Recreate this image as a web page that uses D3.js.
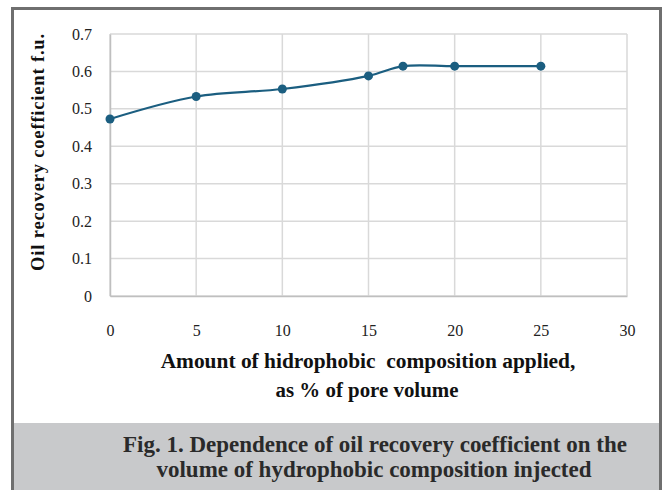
<!DOCTYPE html>
<html>
<head>
<meta charset="utf-8">
<script src="https://cdn.jsdelivr.net/npm/d3@7"></script>
<style>
  body { margin: 0; background: #fff; }
  svg { display: block; }
</style>
</head>
<body>
<svg id="chart"></svg>
<script>
// values
const injected = [0, 5, 10, 15, 17, 20, 25];
const recovery = [0.473, 0.533, 0.553, 0.588, 0.614, 0.614, 0.614];
const xTicks = [0, 5, 10, 15, 20, 25, 30];
const yTicks = [0, 0.1, 0.2, 0.3, 0.4, 0.5, 0.6, 0.7];

const width = 667, height = 490;
const margins = { top: 34, bottom: 194, left: 110, right: 40 };
const serif = 'Liberation Serif, Times New Roman, serif';

const svg = d3.select('#chart')
    .attr('width', width)
    .attr('height', height);

const x = d3.scaleLinear()
    .domain([0, 30])
    .range([margins.left, width - margins.right]);
const y = d3.scaleLinear()
    .domain([0, 0.7])
    .range([height - margins.bottom, margins.top]);

// shrink/grow font so a text fills the width seen in the figure
function fit(sel, target) {
    const fs = +sel.attr('font-size');
    const w = sel.node().getComputedTextLength();
    sel.attr('font-size', (fs * target / w).toFixed(2));
}

// caption box
svg.append('rect')
    .attr('x', 12).attr('y', 423)
    .attr('width', 649).attr('height', 80)
    .attr('fill', '#c8c9cb');

// outer frame
svg.append('rect')
    .attr('x', 12.5).attr('y', 8.5)
    .attr('width', 648).attr('height', 500)
    .attr('fill', 'none')
    .attr('stroke', '#6f6f6f')
    .attr('stroke-width', 3);

// grid
svg.append('g')
    .selectAll('line')
    .data(xTicks)
    .join('line')
    .attr('x1', d => x(d)).attr('x2', d => x(d))
    .attr('y1', y(0)).attr('y2', y(0.7))
    .attr('stroke', '#d9d9d9')
    .attr('stroke-width', 1.5);

svg.append('g')
    .selectAll('line')
    .data(yTicks)
    .join('line')
    .attr('x1', x(0)).attr('x2', x(30))
    .attr('y1', d => y(d)).attr('y2', d => y(d))
    .attr('stroke', '#d9d9d9')
    .attr('stroke-width', 1.5);

// axes (Excel style, only labels)
const xAxis = d3.axisBottom(x).tickValues(xTicks).tickSize(0).tickPadding(29);
const yAxis = d3.axisLeft(y).tickValues(yTicks).tickSize(0).tickPadding(18)
    .tickFormat(d => d === 0 ? '0' : d3.format('.1f')(d));

svg.append('g')
    .attr('transform', `translate(0,${y(0)})`)
    .call(xAxis)
    .attr('font-family', serif)
    .attr('font-size', 16)
    .call(g => g.select('.domain').attr('stroke', '#bfbfbf').attr('stroke-width', 1.5))
    .selectAll('text')
    .attr('fill', '#222');

svg.append('g')
    .attr('transform', `translate(${x(0)},0)`)
    .call(yAxis)
    .attr('font-family', serif)
    .attr('font-size', 16)
    .call(g => g.select('.domain').attr('stroke', '#bfbfbf').attr('stroke-width', 1.5))
    .selectAll('text')
    .attr('fill', '#222');

// line
const pts = injected.map((d, i) => ({ x: d, y: recovery[i] }));
const line = d3.line()
    .curve(d3.curveCatmullRom.alpha(0.5))
    .x(d => x(d.x))
    .y(d => y(d.y));

svg.append('path')
    .datum(pts)
    .attr('fill', 'none')
    .attr('stroke', '#1b5e80')
    .attr('stroke-width', 2.2)
    .attr('d', line);

svg.append('g')
    .selectAll('circle')
    .data(pts)
    .join('circle')
    .attr('cx', d => x(d.x))
    .attr('cy', d => y(d.y))
    .attr('r', 4.5)
    .attr('fill', '#1b5e80');

// axis titles
const yTitle = svg.append('text')
    .attr('transform', `translate(44,152) rotate(-90)`)
    .attr('text-anchor', 'middle')
    .attr('font-family', serif)
    .attr('font-weight', 'bold')
    .attr('font-size', 17)
    .attr('letter-spacing', 0.8)
    .attr('fill', '#111')
    .text('Oil recovery coefficient f.u.');
fit(yTitle, 240);

const t1 = svg.append('text')
    .attr('x', 368).attr('y', 368)
    .attr('text-anchor', 'middle')
    .attr('font-family', serif)
    .attr('font-weight', 'bold')
    .attr('font-size', 18)
    .attr('fill', '#111')
    .attr('xml:space', 'preserve')
    .text('Amount of hidrophobic  composition applied,');
fit(t1, 415);

const t2 = svg.append('text')
    .attr('x', 367).attr('y', 397)
    .attr('text-anchor', 'middle')
    .attr('font-family', serif)
    .attr('font-weight', 'bold')
    .attr('font-size', 18)
    .attr('fill', '#111')
    .text('as % of pore volume');
fit(t2, 183);

// caption
const c1 = svg.append('text')
    .attr('x', 375).attr('y', 452)
    .attr('text-anchor', 'middle')
    .attr('font-family', serif)
    .attr('font-weight', 'bold')
    .attr('font-size', 20)
    .attr('fill', '#2a2a2a')
    .text('Fig. 1. Dependence of oil recovery coefficient on the');
fit(c1, 504);

const c2 = svg.append('text')
    .attr('x', 374).attr('y', 477)
    .attr('text-anchor', 'middle')
    .attr('font-family', serif)
    .attr('font-weight', 'bold')
    .attr('font-size', 20)
    .attr('fill', '#2a2a2a')
    .text('volume of hydrophobic composition injected');
c2.attr('font-size', c1.attr('font-size'));
</script>
</body>
</html>
